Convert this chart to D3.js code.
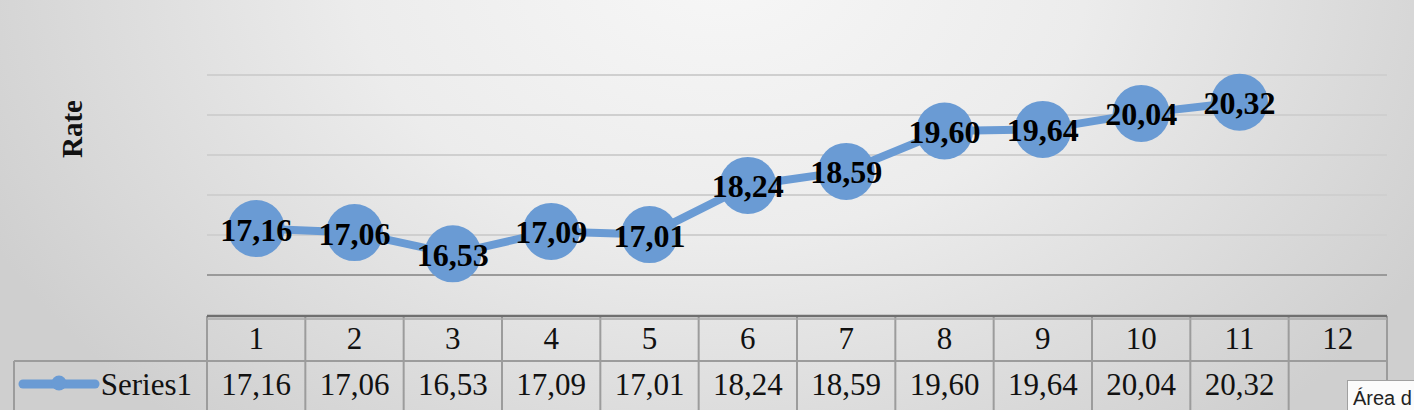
<!DOCTYPE html>
<html><head><meta charset="utf-8">
<script src="https://cdn.jsdelivr.net/npm/d3@7"></script>
<style>html,body{margin:0;padding:0;overflow:hidden;background:#ddd}
svg text{font-family:"Liberation Serif",serif}
svg text.sans{font-family:"Liberation Sans",sans-serif}</style>
</head><body>
<script>
const categories = ["1","2","3","4","5","6","7","8","9","10","11","12"];
const values = [17.16,17.06,16.53,17.09,17.01,18.24,18.59,19.60,19.64,20.04,20.32,null];
const valueLabels = ["17,16","17,06","16,53","17,09","17,01","18,24","18,59","19,60","19,64","20,04","20,32",""];
const gridTicks = [16,17,18,19,20,21];
const seriesName = "Series1";
const axisTitle = "Rate";

const W = 1414, H = 410;
const svg = d3.select("body").append("svg").attr("width", W).attr("height", H);
const defs = svg.append("defs");
const grad = defs.append("radialGradient").attr("id","bg")
  .attr("gradientUnits","userSpaceOnUse").attr("cx",720).attr("cy",-40).attr("r",820)
  .attr("gradientTransform","translate(720,-40) scale(1,0.75) translate(-720,40)");
grad.append("stop").attr("offset","0%").attr("stop-color","#f7f7f7");
grad.append("stop").attr("offset","45%").attr("stop-color","#ececec");
grad.append("stop").attr("offset","100%").attr("stop-color","#cfcfcf");
svg.append("rect").attr("width",W).attr("height",H).attr("fill","url(#bg)");

const left = 207, right = 1387;
const x = d3.scaleBand().domain(categories).range([left, right]);
const y = d3.scaleLinear().domain([15, 21]).range([315, 75]);
const color = "#6a9bd4";

// gridlines
svg.append("g").selectAll("line").data(gridTicks).join("line")
  .attr("x1", left).attr("x2", right)
  .attr("y1", d => y(d)).attr("y2", d => y(d))
  .attr("stroke", d => d === 16 ? "#9a9a9a" : "#cfcfcf").attr("stroke-width", 2);

// axis title
svg.append("text").attr("transform", "translate(82,129) rotate(-90)")
  .attr("text-anchor","middle")
  .attr("font-weight","bold").attr("font-size",29).attr("fill","#111").text(axisTitle);

// line
const pts = categories.map((c,i)=>({c, v: values[i], lab: valueLabels[i]})).filter(d => d.v != null);
const line = d3.line().x(d => x(d.c) + x.bandwidth()/2).y(d => y(d.v));
svg.append("path").datum(pts).attr("d", line).attr("fill","none")
  .attr("stroke", color).attr("stroke-width", 8).attr("stroke-linejoin","round");
svg.append("g").selectAll("circle").data(pts).join("circle")
  .attr("cx", d => x(d.c) + x.bandwidth()/2).attr("cy", d => y(d.v))
  .attr("r", 28.5).attr("fill", color);
svg.append("g").selectAll("text").data(pts).join("text")
  .attr("x", d => x(d.c) + x.bandwidth()/2).attr("y", d => y(d.v) + 12)
  .attr("text-anchor","middle")
  .attr("font-weight","bold").attr("font-size",32).attr("fill","#000")
  .text(d => d.lab);

// data table
const tTop = 316, rowMid = 361, tBot = 412;
const tbl = svg.append("g");
const bounds = categories.map(c => x(c)).concat([right]);
tbl.selectAll("line.v").data(bounds).join("line").attr("class","v")
  .attr("x1", d => d).attr("x2", d => d).attr("y1", tTop).attr("y2", tBot)
  .attr("stroke","#9c9c9c").attr("stroke-width",2);
tbl.append("line").attr("x1",14).attr("x2",14).attr("y1",rowMid).attr("y2",tBot)
  .attr("stroke","#9c9c9c").attr("stroke-width",2);
tbl.append("line").attr("x1",14).attr("x2",right).attr("y1",rowMid).attr("y2",rowMid)
  .attr("stroke","#9c9c9c").attr("stroke-width",2);
tbl.append("line").attr("x1",left).attr("x2",right).attr("y1",tTop).attr("y2",tTop)
  .attr("stroke","#6f6f6f").attr("stroke-width",2.5);
tbl.append("line").attr("x1",left).attr("x2",right).attr("y1",tTop+3).attr("y2",tTop+3)
  .attr("stroke","#a8a8a8").attr("stroke-width",1.5);

tbl.selectAll("text.h").data(categories).join("text").attr("class","h")
  .attr("x", d => x(d) + x.bandwidth()/2).attr("y", 349)
  .attr("text-anchor","middle").attr("font-size",31).attr("fill","#111")
  .text(d => d);
tbl.selectAll("text.d").data(categories.map((c,i)=>({c, lab: valueLabels[i]}))).join("text").attr("class","d")
  .attr("x", d => x(d.c) + x.bandwidth()/2).attr("y", 395)
  .attr("text-anchor","middle").attr("font-size",31).attr("fill","#111")
  .text(d => d.lab);

// legend key
tbl.append("line").attr("x1",23).attr("x2",95).attr("y1",384).attr("y2",384)
  .attr("stroke",color).attr("stroke-width",9).attr("stroke-linecap","round");
tbl.append("circle").attr("cx",59).attr("cy",383).attr("r",7.5).attr("fill",color);
tbl.append("text").attr("x",192).attr("y",395).attr("text-anchor","end")
  .attr("font-size",31).attr("fill","#111").text(seriesName);

// tooltip fragment
svg.append("rect").attr("x",1347.5).attr("y",380.5).attr("width",100).attr("height",40)
  .attr("fill","#fbfbfb").attr("stroke","#a0a0a0");
svg.append("text").attr("class","sans").attr("x",1353).attr("y",405)
  .attr("font-size",20).attr("fill","#222")
  .text("Área d");
</script>
</body></html>
